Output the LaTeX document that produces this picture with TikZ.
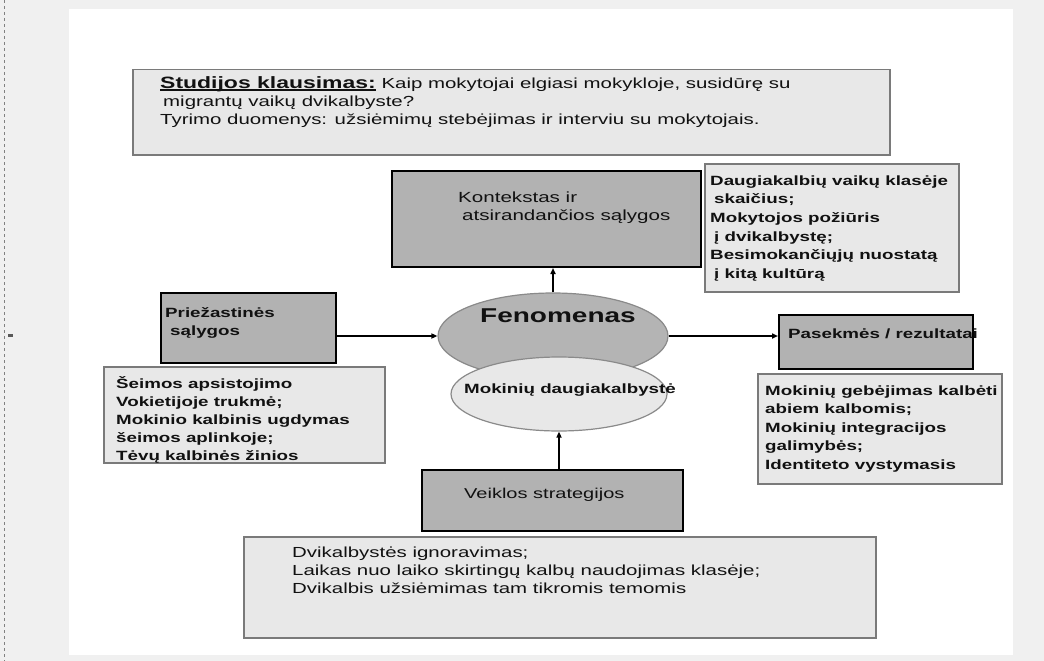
\documentclass[tikz,border=0pt]{standalone}
\usepackage{fontspec}
\setmainfont{Liberation Sans}[FakeStretch=1.4]
\usetikzlibrary{arrows.meta,shapes.geometric}
\definecolor{pagebg}{HTML}{F0F0F0}
\definecolor{darkfill}{HTML}{B2B2B2}
\definecolor{lightfill}{HTML}{E8E8E8}
\definecolor{ellfill}{HTML}{B4B4B4}
\definecolor{ellborder}{HTML}{8A8A8A}
\definecolor{lightborder}{HTML}{7A7A7A}
\definecolor{txtc}{HTML}{111111}
\newcommand\myul[1]{\setbox0\hbox{#1}\rlap{\rule[-2.5pt]{\wd0}{1.3pt}}\box0}
\tikzset{
  darkbox/.style={draw=black, line width=2pt, fill=darkfill, inner sep=0pt, anchor=north west},
  lightbox/.style={draw=lightborder, line width=1.5pt, fill=lightfill, inner sep=0pt, anchor=north west},
  ellA/.style={ellipse, draw=ellborder, line width=1.2pt, fill=ellfill, inner sep=0pt},
  ellB/.style={ellipse, draw=ellborder, line width=1.2pt, fill=lightfill, inner sep=0pt},
  boldtxt/.style={anchor=north west, align=left, inner sep=0pt, text=txtc, font=\bfseries\fontsize{13.4}{18.5}\selectfont},
  regtxt/.style={anchor=north west, align=left, inner sep=0pt, text=txtc, font=\fontsize{14.6}{18}\selectfont},
  arr/.style={draw=black, line width=1.5pt, -{Triangle[length=6pt,width=5pt]}}
}
\begin{document}
\begin{tikzpicture}[x=1pt,y=-1pt]
\useasboundingbox (0,0) rectangle (1044,661);
\fill[pagebg] (0,0) rectangle (1044,661);
\fill[white] (69,9) rectangle (1013,655);
\draw[gray, line width=0.8pt, dashed] (4,0) -- (4,661);
\fill[gray!70!black] (8,334) rectangle (13,337);

% top question box
\node[lightbox, minimum width=757, minimum height=85] (top) at (132,69) {};
\node[regtxt, anchor=north west] (toptxt) at (160,75) {\rule{0pt}{13pt}{\bfseries\fontsize{16.4}{18}\selectfont\myul{Studijos klausimas:}} Kaip mokytojai elgiasi mokykloje, susidūrę su\\
\hspace{3pt}migrantų vaikų dvikalbyste?\\
Tyrimo duomenys: užsiėmimų stebėjimas ir interviu su mokytojais.};

% context
\node[darkbox, minimum width=309, minimum height=96] (kont) at (391,170) {};
\node[regtxt, font=\fontsize{14.7}{18}\selectfont] (konttxt) at (458,189) {\rule{0pt}{13pt}Kontekstas ir\\\hspace{4pt}atsirandančios sąlygos};
\node[lightbox, minimum width=254, minimum height=128] (ctx) at (704,163) {};
\node[boldtxt, font=\bfseries\fontsize{13.4}{18.6}\selectfont] (ctxtxt) at (710,172) {\rule{0pt}{13pt}Daugiakalbių vaikų klasėje\\
\hspace{4pt}skaičius;\\
Mokytojos požiūris\\
\hspace{4pt}į dvikalbystę;\\
Besimokančiųjų nuostatą\\
\hspace{4pt}į kitą kultūrą};

% causes
\node[darkbox, minimum width=175, minimum height=70] (prz) at (160,292) {};
\node[boldtxt] (prztxt) at (165,304) {\rule{0pt}{13pt}Priežastinės\\\hspace{5pt}sąlygos};
\node[lightbox, minimum width=281, minimum height=96] (left) at (103,366) {};
\node[boldtxt, font=\bfseries\fontsize{13.4}{18}\selectfont] (lefttxt) at (116,375) {\rule{0pt}{13pt}Šeimos apsistojimo\\
Vokietijoje trukmė;\\
Mokinio kalbinis ugdymas\\
šeimos aplinkoje;\\
Tėvų kalbinės žinios};

% phenomenon
\node[ellA, minimum width=230, minimum height=86] (fen) at (553,336) {};
\node[ellB, minimum width=216, minimum height=74] (mok) at (559,394) {};
\node[anchor=base, inner sep=0pt, text=txtc, font=\bfseries\fontsize{20}{22}\selectfont] (fentxt) at (558,322) {Fenomenas};
\node[anchor=base west, inner sep=0pt, text=txtc, font=\bfseries\fontsize{13.4}{16}\selectfont] (moktxt) at (464,393) {Mokinių daugiakalbystė};

% consequences
\node[darkbox, minimum width=194, minimum height=54] (pas) at (778,314) {};
\node[anchor=base west, inner sep=0pt, text=txtc, font=\bfseries\fontsize{13.4}{16}\selectfont] (pastxt) at (788,338) {Pasekmės / rezultatai};
\node[lightbox, minimum width=244, minimum height=110] (right) at (757,373) {};
\node[boldtxt] (righttxt) at (765,382) {\rule{0pt}{13pt}Mokinių gebėjimas kalbėti\\
abiem kalbomis;\\
Mokinių integracijos\\
galimybės;\\
Identiteto vystymasis};

% strategies
\node[darkbox, minimum width=261, minimum height=61] (veik) at (421,469) {};
\node[anchor=base west, inner sep=0pt, text=txtc, font=\fontsize{14.3}{16}\selectfont] (veiktxt) at (464,498) {Veiklos strategijos};
\node[lightbox, minimum width=632, minimum height=101] (bot) at (243,536) {};
\node[regtxt] (bottxt) at (292,544) {\rule{0pt}{13pt}Dvikalbystės ignoravimas;\\
Laikas nuo laiko skirtingų kalbų naudojimas klasėje;\\
Dvikalbis užsiėmimas tam tikromis temomis};

% connectors
\draw[arr] (prz.east |- fen.west) -- (fen.west);
\draw[arr] (fen.east) -- (fen.east -| pas.west);
\draw[arr] (fen.north) -- (fen.north |- kont.south);
\draw[arr] (mok.south |- veik.north) -- (mok.south);
\end{tikzpicture}
\end{document}
